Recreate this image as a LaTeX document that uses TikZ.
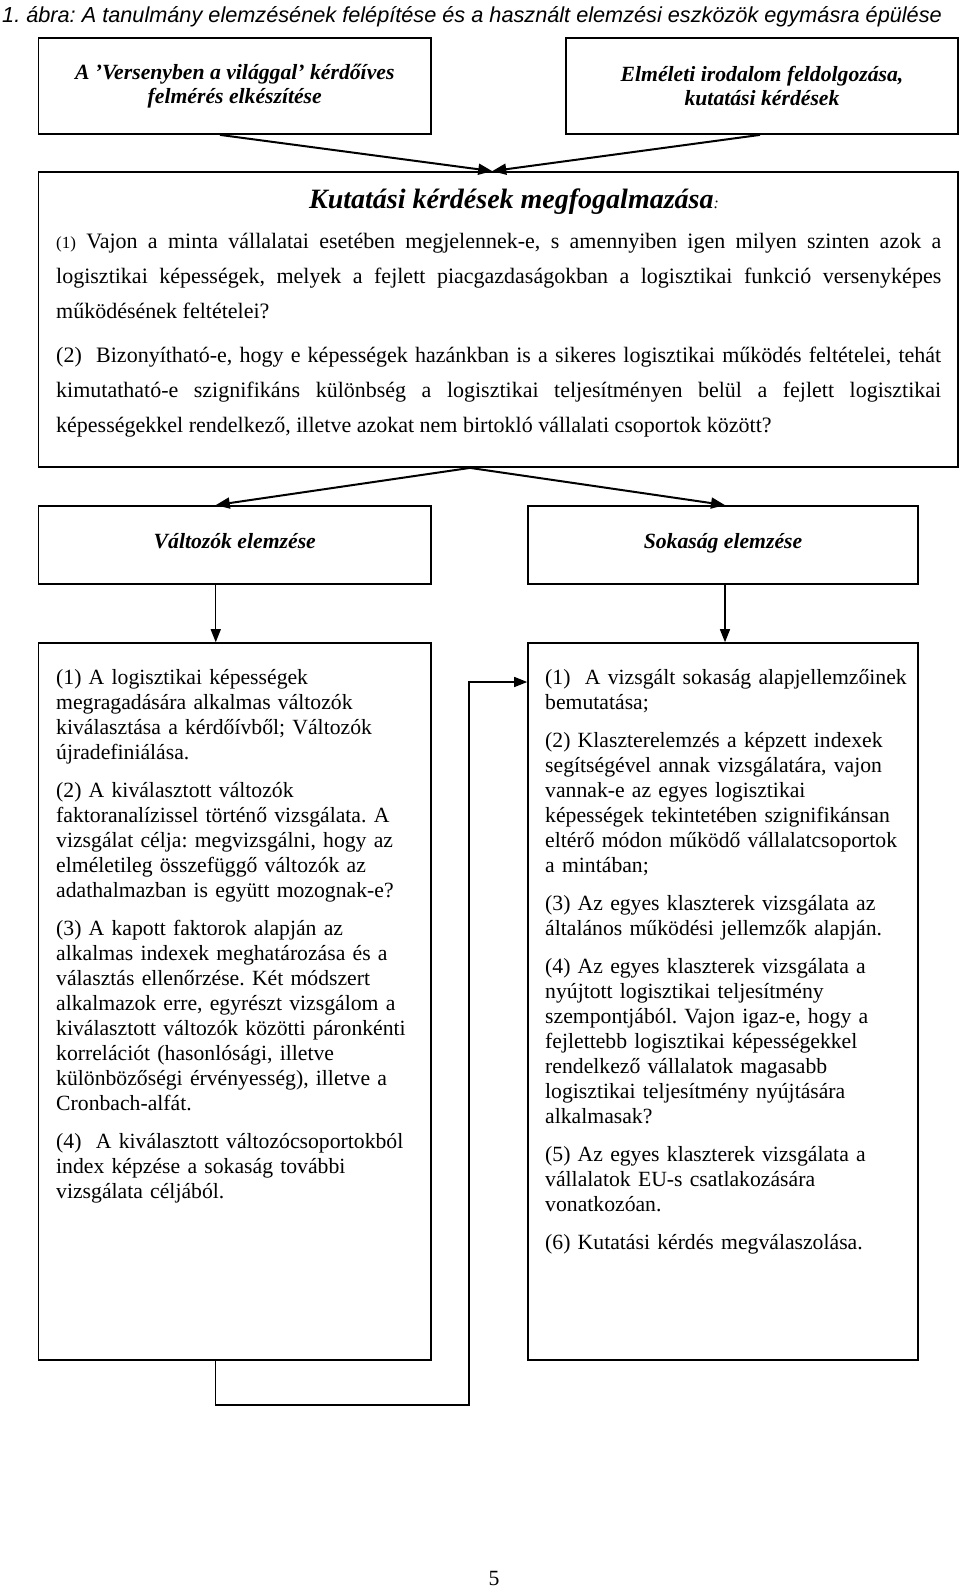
\documentclass[tikz,border=0pt]{standalone}
\usepackage{fontspec}
\setmainfont{Liberation Serif}
\setsansfont{Liberation Sans}
\usetikzlibrary{arrows.meta,calc}
\AtBeginDocument{\frenchspacing}
\begin{document}
\begin{tikzpicture}[x=1pt,y=-1pt,
  box/.style={draw=black, line width=1.8pt, inner sep=0pt, rectangle},
  arr/.style={line width=2pt, -{Triangle[length=14pt,width=11pt]}},
  arrthin/.style={line width=1.3pt, -{Triangle[length=13pt,width=10pt]}},
  body/.style={font=\fontsize{21.7}{25}\selectfont\frenchspacing, inner sep=0pt, anchor=north west, align=left, text width=390pt},
  hd/.style={font=\bfseries\itshape\fontsize{21.7}{24}\selectfont, align=center, inner sep=0pt},
]
\useasboundingbox (0,0) rectangle (960,1590);

% boxes
\node[box, minimum width=392.5pt, minimum height=96pt] (tl) at (234.75,86) {};
\node[box, minimum width=392pt, minimum height=96pt] (tr) at (762,86) {};
\node[box, minimum width=919.5pt, minimum height=295pt] (kb) at (498.25,319.5) {};
\node[box, minimum width=392.5pt, minimum height=78pt] (ml) at (234.75,545) {};
\node[box, minimum width=390pt, minimum height=78pt] (mr) at (723,545) {};
\node[box, line width=1.6pt, minimum width=392.5pt, minimum height=717pt] (ll) at (234.75,1001.5) {};
\node[box, line width=1.6pt, minimum width=390pt, minimum height=717pt] (lr) at (723,1001.5) {};

% title
\node[anchor=base west, inner sep=0pt, font=\sffamily\itshape\fontsize{21.7}{26}\selectfont] (title) at (2,22)
  {1. ábra: A tanulmány elemzésének felépítése és a használt elemzési eszközök egymásra épülése};

% headings
\node[hd] (tlt) at (234.75,86) {A ’Versenyben a világgal’ kérdőíves\\felmérés elkészítése};
\node[hd] (trt) at (762,86) {Elméleti irodalom feldolgozása,\\kutatási kérdések};
\node[inner sep=0pt, font=\bfseries\itshape\fontsize{28}{30}\selectfont] (kh) at (514,202)
  {Kutatási kérdések megfogalmazása{\mdseries\fontsize{16}{16}\selectfont:}};
\node[hd, anchor=base] (mlt) at (234.75,548.5) {Változók elemzése};
\node[hd, anchor=base] (mrt) at (723,548.5) {Sokaság elemzése};

% big box text
\node[anchor=north west, inner sep=0pt, text width=885pt, align=justify, font=\fontsize{22}{35}\selectfont\frenchspacing] (kt) at (56,230)
  {\tolerance=9999 \hbadness=10000 \hyphenpenalty=10000 \rule{0pt}{18pt}{\fontsize{17}{35}\selectfont(1)} Vajon a minta vállalatai esetében megjelennek-e, s amennyiben igen milyen szinten azok a\linebreak
  logisztikai képességek, melyek a fejlett piacgazdaságokban a logisztikai funkció versenyképes\linebreak
  működésének feltételei?\\[9pt]
  (2)\ \ Bizonyítható-e, hogy e képességek hazánkban is a sikeres logisztikai működés feltételei, tehát\linebreak
  kimutatható-e szignifikáns különbség a logisztikai teljesítményen belül a fejlett logisztikai\linebreak
  képességekkel rendelkező, illetve azokat nem birtokló vállalati csoportok között?};

% lower left text
\node[body] (llt) at (56,666)
  {\rule{0pt}{18pt}(1) A logisztikai képességek\\
  megragadására alkalmas változók\\
  kiválasztása a kérdőívből; Változók\\
  újradefiniálása.\\[13pt]
  (2) A kiválasztott változók\\
  faktoranalízissel történő vizsgálata. A\\
  vizsgálat célja: megvizsgálni, hogy az\\
  elméletileg összefüggő változók az\\
  adathalmazban is együtt mozognak-e?\\[13pt]
  (3) A kapott faktorok alapján az\\
  alkalmas indexek meghatározása és a\\
  választás ellenőrzése. Két módszert\\
  alkalmazok erre, egyrészt vizsgálom a\\
  kiválasztott változók közötti páronkénti\\
  korrelációt (hasonlósági, illetve\\
  különbözőségi érvényesség), illetve a\\
  Cronbach-alfát.\\[13pt]
  (4)\ \ A kiválasztott változócsoportokból\\
  index képzése a sokaság további\\
  vizsgálata céljából.};

% lower right text
\node[body] (lrt) at (545,666)
  {\rule{0pt}{18pt}(1)\ \ A vizsgált sokaság alapjellemzőinek\\
  bemutatása;\\[13pt]
  (2) Klaszterelemzés a képzett indexek\\
  segítségével annak vizsgálatára, vajon\\
  vannak-e az egyes logisztikai\\
  képességek tekintetében szignifikánsan\\
  eltérő módon működő vállalatcsoportok\\
  a mintában;\\[13pt]
  (3) Az egyes klaszterek vizsgálata az\\
  általános működési jellemzők alapján.\\[13pt]
  (4) Az egyes klaszterek vizsgálata a\\
  nyújtott logisztikai teljesítmény\\
  szempontjából. Vajon igaz-e, hogy a\\
  fejlettebb logisztikai képességekkel\\
  rendelkező vállalatok magasabb\\
  logisztikai teljesítmény nyújtására\\
  alkalmasak?\\[13pt]
  (5) Az egyes klaszterek vizsgálata a\\
  vállalatok EU-s csatlakozására\\
  vonatkozóan.\\[13pt]
  (6) Kutatási kérdés megválaszolása.};

% page number
\node[inner sep=0pt, font=\fontsize{21.7}{26}\selectfont] (pg) at (494,1578) {5};

% connectors
\draw[arr] ([xshift=-14.75pt]tl.south) -- ([xshift=-6pt]kb.north);
\draw[arr] ([xshift=-2pt]tr.south) -- ([xshift=-6pt]kb.north);
\draw[arr] ([xshift=-28.25pt]kb.south) -- ([xshift=-19pt]ml.north);
\draw[arr] ([xshift=-28.25pt]kb.south) -- ([xshift=2pt]mr.north);
\draw[arrthin] ([xshift=-19pt]ml.south) -- ([xshift=-19pt]ll.north);
\draw[arrthin] ([xshift=2pt]mr.south) -- ([xshift=2pt]lr.north);
\coordinate (c1) at (469,1405);
\draw[arrthin] ([xshift=-19pt]ll.south) |- (c1) |- ([yshift=319.5pt]lr.west);
\end{tikzpicture}
\end{document}
